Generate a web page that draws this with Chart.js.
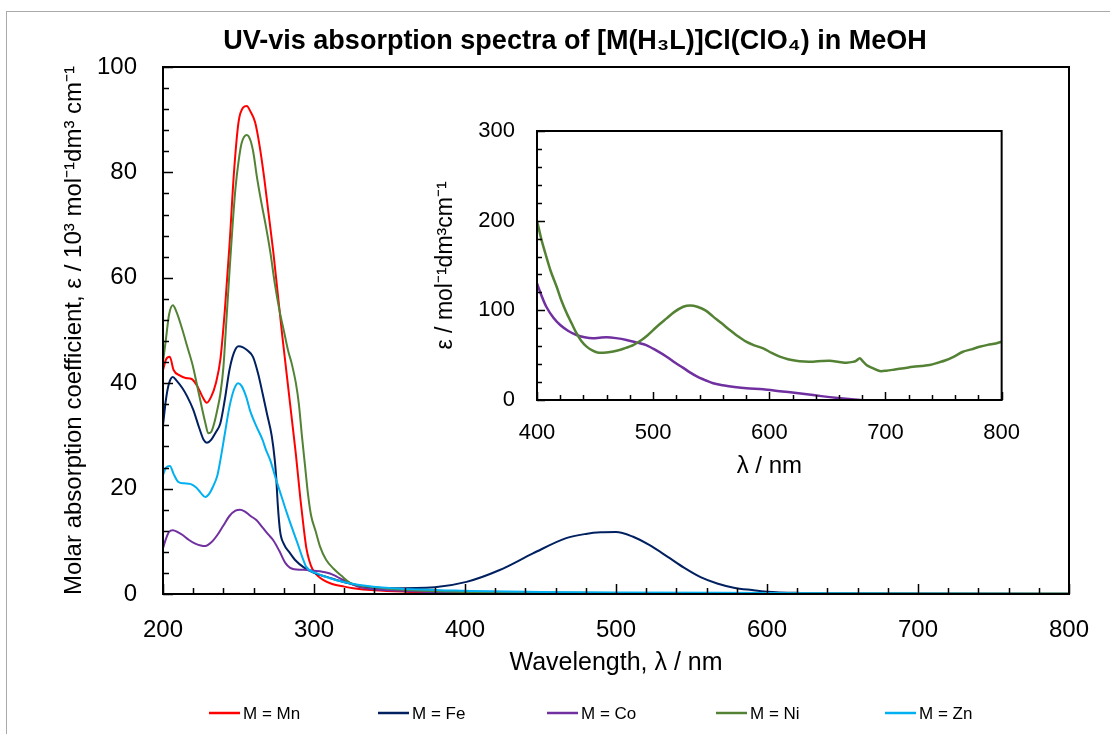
<!DOCTYPE html>
<html>
<head>
<meta charset="utf-8">
<script src="https://cdn.jsdelivr.net/npm/chart.js@4.4.1/dist/chart.umd.min.js"></script>
<style>
  body { margin: 0; background: #fff; }
  #wrap { position: relative; width: 1110px; height: 734px; overflow: hidden; }
  #frame { position: absolute; left: 6px; top: 11px; right: -2px; bottom: -2px; border-left: 1px solid #aaa; border-top: 1px solid #aaa; }
  #main { position: absolute; left: 0; top: 0; }
  #inset { position: absolute; left: 420px; top: 110px; }
</style>
</head>
<body>
<div id="wrap">
  <div id="frame"></div>
  <canvas id="main" width="1110" height="734"></canvas>
  <canvas id="inset" width="600" height="380"></canvas>
</div>
<script>
// main spectra, eps in 10^3 mol-1 dm3 cm-1
const mnWl  = [200,202,204.5,207,211,215,219,223,226,229,232,235,238,241,244,247,250,253,255.5,258,261,264,267,270,273,276,279,282,285,288,291,293,295,297,299,303,306,312,320,326,340,360,400,500,600,800];
const mnEps = [42.5,44.5,45,42.5,41.5,41,40.8,39.3,37.5,36.3,37.5,40,44.5,54,66,80,89.5,92.3,92.6,91.5,89.5,85,79,72,65,57,49,41.5,34,26.5,18,13,8.6,6.2,4.7,3.3,2.7,1.9,1.4,1.1,0.7,0.45,0.25,0.12,0.08,0.05];

const feWl  = [200,202,204,206.5,209,213,216,220,224,227,229,232,235,238,241,244,247,250,253,256,259.6,263,266,269,272,274,275,276,277.5,280,284,288,293,300,309,322,335,350,380,401,423,445,467,480,490,500,511,522,534,545,556,567,578,590,600,622,650,700,800];
const feEps = [32,37,40,41.2,40.5,39,37.5,35,31.5,29.2,28.7,29.3,30.7,32.4,37,42.5,45.8,47,46.8,46.2,45,41.8,38,34,30,25.5,22,17,12,9.5,7.8,6.3,5.1,4,3.2,2.1,1.3,1.1,1.3,2.3,4.55,7.7,10.6,11.4,11.7,11.75,10.9,9.3,7.1,5,3.2,2,1.2,0.75,0.45,0.2,0.1,0.05,0];

const coWl  = [200,202,204,206.5,210,213,217,221,225,228,232,236,240,244,248,251,254,258,262,266,270,273,277,281,284,287,292,297,304,310.6,315,319,325,330,340,350,375,400,450,500,600,700,800];
const coEps = [8.7,10.5,11.8,12.1,11.7,11.2,10.3,9.6,9.2,9.1,9.8,11.2,13,14.8,15.8,16,15.7,14.8,14,12.6,11.2,10.2,8.2,5.9,5,4.7,4.6,4.5,4.3,3.9,3.3,2.7,1.9,1.3,0.9,0.7,0.4,0.15,0.08,0.06,0.02,0,0];

const niWl  = [200,202,204,206.5,209,213,216,220,223,226,228,230,232,234,236,238,240,242,244,246,248,250,252,255.5,258,260,262,265,268,271,274,277,280,283,285,288,290,292,294,296,298,301,304,308,313,318,324,330,339,360,400,500,600,800];
const niEps = [44,48.5,53,54.8,53.5,50,47,43,39,35,32.5,30.5,30.8,32.5,35,38,43,52,61,69.6,77,82,85.5,87.1,86,83.5,79.5,74.5,70,65,59,54,50,46,44,40,36,30,24.5,19,15,12,9,6.5,4.8,3.5,2.1,1.6,1.3,0.8,0.4,0.2,0.12,0.08];

const znWl  = [200,202,204.6,207,210,214,218,222,225,228,231,233,236,238,241,244,247,249.7,252,255,258,262,266,268,271,275,278.5,282,285.5,289,292,295,302,315,330,352,400,450,500,600,700,800];
const znEps = [22.6,24,24.3,22.8,21.3,21,20.9,20.2,19.2,18.4,19.2,20.3,22.5,25.4,30.5,35.5,38.8,40,39.5,37.5,34.5,31.7,29.2,27.5,25.4,21.6,18.5,15.4,12.5,9.7,7.2,5.1,3.9,2.6,1.7,1.1,0.6,0.4,0.3,0.2,0.1,0.05];

// inset, eps in mol-1 dm3 cm-1
const niVisWl  = [400,404,408,412,417,421,425.5,430,434,438,442.7,448,452,457,463,468.5,475,482.8,490,495,500,506,511.6,518,525.9,532,538,545,551.7,559,566,573,580,587,594.7,602,609,616,623,630,637.7,645,652,660,666.4,672,675,677.8,680,683.6,689,695,700.8,708,716,723.7,731,738,745,752.4,759,766.7,774,781,788,795,800];
const niVisEps = [200,178,160,143,126,111,97,85,74.5,66,59.5,55,53,52.7,53.5,55,57.5,61.3,67,72,78,85,91,98,104,105.5,104,100,93,85.5,78,71,65,61,57.6,52.5,48.3,45.5,43.8,43,42.7,43.5,43.8,42.5,41.6,42.5,44,46.5,44,39,35.5,32.3,32.7,34,35.5,37,38,39,41.5,44.6,48.5,53.8,56.5,59.4,61.5,63,65];

const coVisWl  = [400,404,408,414,420,427,434,441,448,454,460,468,477,486,494,503,511.6,519,525.9,532,538,545,551.7,560,570,580.4,594.7,609,623.4,637.7,652,666,678,686];
const coVisEps = [130,116,104,92,83.6,77,72.5,70,68.8,69.5,70,69,67,64,61.3,55,48.3,41.5,35.8,30.5,26,22,18.6,16.5,14.5,13,11.9,9.8,7.8,5.5,3.2,1.3,0,-1];

const metals = ['M = Mn', 'M = Fe', 'M = Co', 'M = Ni', 'M = Zn'];
const colors = ['#ff0000', '#002060', '#7030a0', '#548235', '#00b0f0'];

Chart.defaults.font.family = '"Liberation Sans", Arial, sans-serif';
Chart.defaults.color = '#000';

function pts(xs, ys) {
   return xs.map((x, i) => ({x: x, y: ys[i]}));
}

// inward tick marks + full box round the plot area
const boxTicks = {
   id: 'boxTicks',
   afterDraw(chart, args, o) {
      const {ctx, chartArea: a, scales: {x, y}} = chart;
      ctx.save();
      ctx.strokeStyle = '#000';
      ctx.lineWidth = 1.5;
      ctx.beginPath();
      for (let v = x.min; v <= x.max + 1e-6; v += o.xMinor) {
         const px = Math.round(x.getPixelForValue(v)) + 0.5;
         const len = Math.abs(v % o.xMajor) < 1e-6 ? o.major : o.minor;
         ctx.moveTo(px, a.bottom);
         ctx.lineTo(px, a.bottom - len);
      }
      for (let v = y.min; v <= y.max + 1e-6; v += o.yMinor) {
         const py = Math.round(y.getPixelForValue(v)) + 0.5;
         const len = Math.abs(v % o.yMajor) < 1e-6 ? o.major : o.minor;
         ctx.moveTo(a.left, py);
         ctx.lineTo(a.left + len, py);
      }
      ctx.stroke();
      ctx.lineWidth = 2;
      ctx.strokeRect(a.left, a.top, a.width, a.height);
      ctx.restore();
   }
};

// title and bottom legend of the main chart
const mainDecor = {
   id: 'mainDecor',
   afterDraw(chart) {
      const ctx = chart.ctx;
      ctx.save();
      ctx.fillStyle = '#000';
      ctx.font = 'bold 27px "Liberation Sans", Arial, sans-serif';
      ctx.textAlign = 'center';
      ctx.textBaseline = 'middle';
      ctx.fillText('UV-vis absorption spectra of [M(H\u2083L)]Cl(ClO\u2084) in MeOH', 575, 42);

      ctx.font = '17px "Liberation Sans", Arial, sans-serif';
      ctx.textAlign = 'left';
      chart.data.datasets.forEach((ds, i) => {
         const x0 = 209 + i * 169;
         ctx.strokeStyle = ds.borderColor;
         ctx.lineWidth = 2.5;
         ctx.beginPath();
         ctx.moveTo(x0, 713);
         ctx.lineTo(x0 + 31, 713);
         ctx.stroke();
         ctx.fillText(ds.label, x0 + 34, 714);
      });
      ctx.restore();
   }
};

const mainSeries = [[mnWl, mnEps], [feWl, feEps], [coWl, coEps], [niWl, niEps], [znWl, znEps]];

// label offsets go through tickLength so they do not eat into the plot area
new Chart(document.getElementById('main'), {
   type: 'line',
   data: {
      datasets: mainSeries.map((s, i) => ({
         label: metals[i],
         data: pts(s[0], s[1]),
         borderColor: colors[i],
         borderWidth: 2,
         pointRadius: 0,
         cubicInterpolationMode: 'monotone',
         order: 5 - i
      }))
   },
   options: {
      responsive: false,
      animation: false,
      devicePixelRatio: 1,
      layout: {padding: {top: 67, right: 41, bottom: 56, left: 0}},
      plugins: {
         legend: {display: false},
         tooltip: {enabled: false},
         boxTicks: {xMinor: 20, xMajor: 100, yMinor: 4, yMajor: 20, major: 10, minor: 6}
      },
      scales: {
         x: {
            type: 'linear', min: 200, max: 800,
            grid: {display: false, tickLength: 22}, border: {display: false},
            ticks: {stepSize: 100, font: {size: 24}, color: '#000', padding: 0, maxRotation: 0},
            title: {display: true, text: 'Wavelength, \u03bb / nm', font: {size: 25}, color: '#000', padding: {top: 0, bottom: 0}},
            afterFit: s => { s.height = 84; }
         },
         y: {
            min: 0, max: 100,
            grid: {display: false, tickLength: 26}, border: {display: false},
            ticks: {stepSize: 20, font: {size: 24}, color: '#000', padding: 0},
            title: {display: true, text: 'Molar absorption coefficient, \u03b5 / 10\u00b3 mol\u207b\u00b9dm\u00b3 cm\u207b\u00b9', font: {size: 24}, color: '#000', padding: {top: 60, bottom: 0}},
            afterFit: s => { s.width = 163; }
         }
      }
   },
   plugins: [boxTicks, mainDecor]
});

// inset: visible region, Co and Ni only
new Chart(document.getElementById('inset'), {
   type: 'line',
   data: {
      datasets: [
         {label: metals[3], data: pts(niVisWl, niVisEps), borderColor: colors[3], borderWidth: 2.5, pointRadius: 0, tension: 0.3},
         {label: metals[2], data: pts(coVisWl, coVisEps), borderColor: colors[2], borderWidth: 2.5, pointRadius: 0, tension: 0.3}
      ]
   },
   options: {
      responsive: false,
      animation: false,
      devicePixelRatio: 1,
      layout: {padding: {top: 21, right: 18, bottom: 0, left: 0}},
      plugins: {
         legend: {display: false},
         tooltip: {enabled: false},
         boxTicks: {xMinor: 20, xMajor: 100, yMinor: 20, yMajor: 100, major: 8, minor: 5}
      },
      scales: {
         x: {
            type: 'linear', min: 400, max: 800,
            grid: {display: false, tickLength: 20}, border: {display: false},
            ticks: {stepSize: 100, font: {size: 22}, color: '#000', padding: 0, maxRotation: 0},
            title: {display: true, text: '\u03bb / nm', font: {size: 24}, color: '#000', padding: {top: 0, bottom: 9}},
            afterFit: s => { s.height = 90; }
         },
         y: {
            min: 0, max: 300,
            grid: {display: false, tickLength: 22}, border: {display: false},
            ticks: {stepSize: 100, font: {size: 22}, color: '#000', padding: 0},
            title: {display: true, text: '\u03b5 / mol\u207b\u00b9dm\u00b3cm\u207b\u00b9', font: {size: 23}, color: '#000', padding: {top: 12, bottom: 0}},
            afterFit: s => { s.width = 117; }
         }
      }
   },
   plugins: [boxTicks]
});
</script>
</body>
</html>
